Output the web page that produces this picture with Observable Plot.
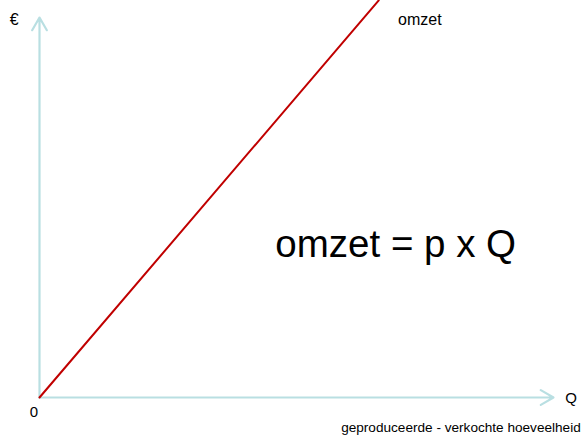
<!DOCTYPE html>
<html>
<head>
<meta charset="utf-8">
<script src="https://cdn.jsdelivr.net/npm/d3@7"></script>
<script src="https://cdn.jsdelivr.net/npm/@observablehq/plot@0.6"></script>
<style>
  html, body { margin: 0; padding: 0; background: #fff; }
</style>
</head>
<body>
<div id="chart"></div>
<script>
// Data: omzet line (Q, euro) in arbitrary units
const omzetQ = [0, 66];
const omzetEuro = [0, 104.5];
const omzetData = omzetQ.map((q, i) => ({q, e: omzetEuro[i]}));

// Axis arrows
const axisArrows = [
  {x1: 0, y1: 0, x2: 0, y2: 100},
  {x1: 0, y1: 0, x2: 100, y2: 0}
];

// Labels (data coordinates)
const labelTexts = ["€", "omzet", "0", "Q", "geproduceerde - verkochte hoeveelheid"];
const labelX = [-4.9, 74, -1.1, 103.4, 105.3];
const labelY = [99.3, 99.3, -3.9, -0.2, -8.0];
const labelSize = [16, 16, 15, 15, 13.6];
const labelAnchor = ["middle", "middle", "middle", "middle", "end"];
const labels = labelTexts.map((t, i) => ({t, x: labelX[i], y: labelY[i], s: labelSize[i], a: labelAnchor[i]}));

const formula = [{t: "omzet = p x Q", x: 69.3, y: 40.3}];

const FONT = "Liberation Sans, Arial, sans-serif";

const chart = Plot.plot({
  width: 584,
  height: 438,
  marginLeft: 39,
  marginRight: 31,
  marginTop: 17,
  marginBottom: 41,
  style: {fontFamily: FONT},
  x: {domain: [0, 100], axis: null},
  y: {domain: [0, 100], axis: null},
  marks: [
    Plot.arrow(axisArrows, {x1: "x1", y1: "y1", x2: "x2", y2: "y2", stroke: "#b9dfe2", strokeWidth: 2.2, headLength: 10, bend: 0}),
    Plot.line(omzetData, {x: "q", y: "e", stroke: "#c00000", strokeWidth: 2, clip: false}),
    ...labels.map(d => Plot.text([d], {x: "x", y: "y", text: "t", fontSize: d.s, fontFamily: FONT, fill: "#000", textAnchor: d.a, clip: false})),
    Plot.text(formula, {x: "x", y: "y", text: "t", fontSize: 38.5, fontFamily: FONT, fill: "#000", textAnchor: "middle"})
  ]
});
document.getElementById("chart").appendChild(chart);
</script>
</body>
</html>
